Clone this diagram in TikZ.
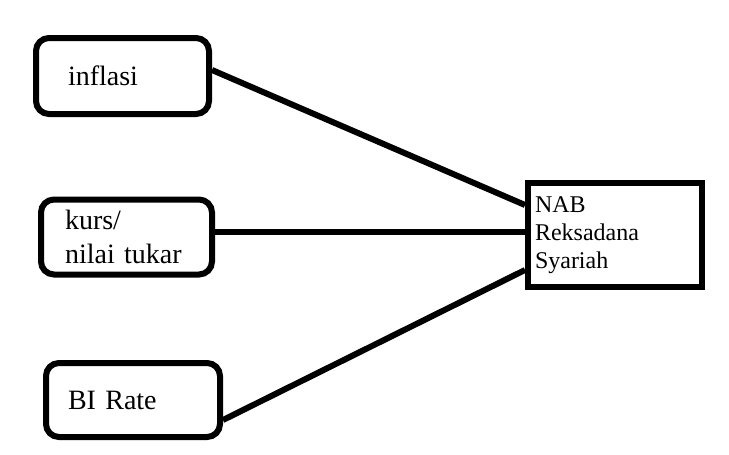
\documentclass[tikz,border=0pt]{standalone}
\usepackage{fontspec}
\setmainfont{Liberation Serif}
\usetikzlibrary{calc}
\begin{document}
\begin{tikzpicture}[x=1pt,y=-1pt,
  leftbox/.style={draw=black, line width=6pt, rounded corners=13pt, align=left,
    font=\fontsize{28}{34}\selectfont, inner ysep=0pt},
  nabbox/.style={draw=black, line width=6pt, align=left,
    font=\fontsize{24}{28}\selectfont, inner ysep=0pt, inner xsep=7pt, text width=160pt,
    minimum width=174pt, minimum height=104pt},
  link/.style={line width=6pt}]
\useasboundingbox (0,0) rectangle (729,455);
\node[leftbox, inner xsep=32pt, text width=109pt, minimum width=173pt, minimum height=76pt] (b1) at (122.5,76) {inflasi};
\node[leftbox, inner xsep=24pt, text width=123pt, minimum width=171pt, minimum height=75pt] (b2) at (126.5,237) {kurs/\\nilai tukar};
\node[leftbox, inner xsep=22pt, text width=130pt, minimum width=174pt, minimum height=74pt] (b3) at (133,400) {BI Rate};
\node[nabbox] (nab) at (615,235) {NAB\\Reksadana\\Syariah};
\draw[link] ($(b1.east)+(0,-6)$) -- ($(nab.west)+(0,-30)$);
\draw[link] ($(b2.east)+(0,-5)$) -- ($(nab.west)+(0,-3)$);
\draw[link] ($(b3.east)+(0,20)$) -- ($(nab.west)+(0,35)$);
\end{tikzpicture}
\end{document}
